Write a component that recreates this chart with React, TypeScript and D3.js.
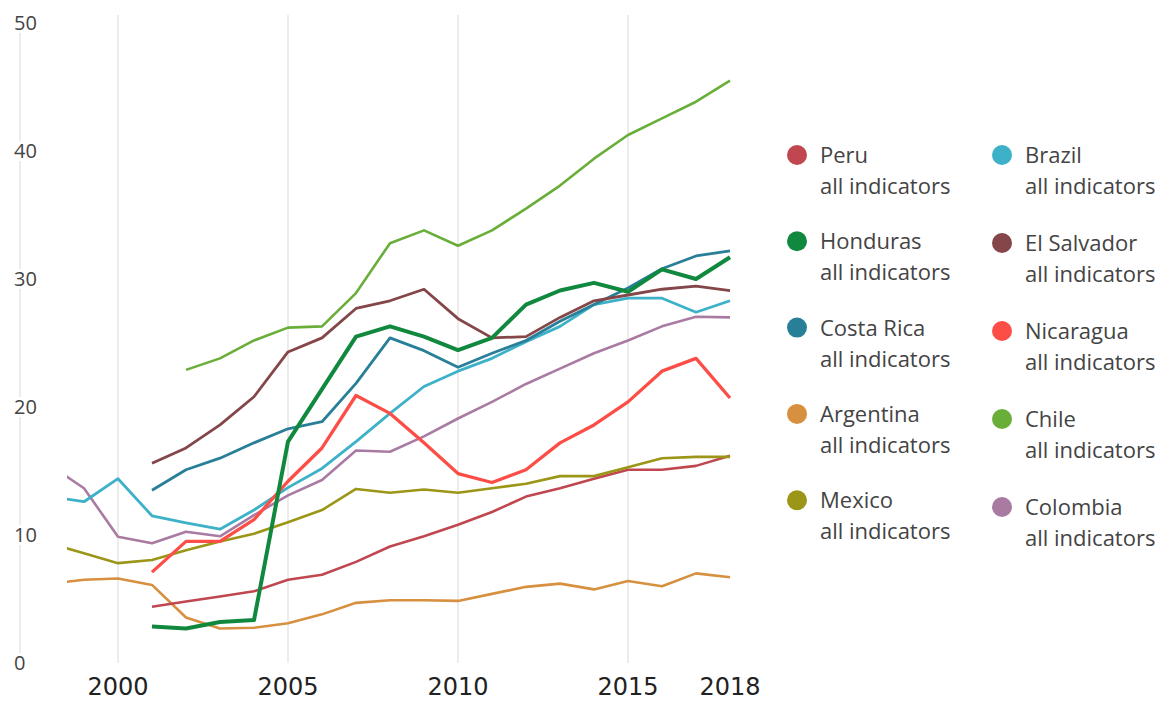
import * as d3 from 'd3';
import React, { useEffect, useRef } from 'react';

const years = d3.range(1998, 2019);
const xTicks = [2000, 2005, 2010, 2015, 2018];
const yTicks = [0, 10, 20, 30, 40, 50];
const gridYears = [2000, 2005, 2010, 2015];

// one value per year, 1998..2018 (null = no data)
const peru = [null, null, null, 4.4, 4.8, 5.2, 5.6, 6.5, 6.9, 7.9, 9.1, 9.9, 10.8, 11.8, 13.0, 13.65, 14.4, 15.1, 15.1, 15.4, 16.2];
const honduras = [null, null, null, 2.85, 2.7, 3.2, 3.35, 17.3, 21.4, 25.5, 26.3, 25.5, 24.45, 25.4, 28.0, 29.1, 29.7, 29.0, 30.75, 30.0, 31.7];
const costaRica = [null, null, null, 13.5, 15.1, 16.0, 17.2, 18.3, 18.85, 21.85, 25.4, 24.4, 23.1, 24.2, 25.2, 26.7, 28.0, 29.3, 30.8, 31.8, 32.2];
const argentina = [6.2, 6.5, 6.6, 6.1, 3.55, 2.7, 2.75, 3.1, 3.8, 4.7, 4.9, 4.9, 4.85, 5.4, 5.95, 6.2, 5.75, 6.4, 6.0, 7.0, 6.7];
const mexico = [9.35, 8.57, 7.8, 8.05, 8.8, 9.5, 10.1, 11.0, 11.95, 13.6, 13.3, 13.55, 13.3, 13.65, 14.0, 14.6, 14.6, 15.3, 16.0, 16.1, 16.1];
const brazil = [13.0, 12.6, 14.4, 11.5, 10.95, 10.45, 11.95, 13.7, 15.2, 17.3, 19.5, 21.6, 22.8, 23.8, 25.1, 26.3, 28.0, 28.5, 28.5, 27.4, 28.3];
const elSalvador = [null, null, null, 15.6, 16.8, 18.6, 20.8, 24.3, 25.4, 27.7, 28.3, 29.2, 26.9, 25.4, 25.5, 27.0, 28.3, 28.75, 29.2, 29.45, 29.1];
const nicaragua = [null, null, null, 7.1, 9.5, 9.5, 11.2, 14.2, 16.8, 20.9, 19.5, 17.2, 14.8, 14.1, 15.1, 17.2, 18.6, 20.4, 22.8, 23.8, 20.7];
const chile = [null, null, null, null, 22.9, 23.8, 25.2, 26.2, 26.3, 28.9, 32.8, 33.8, 32.6, 33.8, 35.5, 37.3, 39.4, 41.25, 42.55, 43.85, 45.5];
const colombia = [15.45, 13.65, 9.87, 9.35, 10.26, 9.9, 11.55, 13.1, 14.3, 16.6, 16.5, 17.7, 19.1, 20.4, 21.8, 23.0, 24.2, 25.2, 26.3, 27.05, 27.0];

// legend order: left column then right column
const legendLeft = ['Peru', 'Honduras', 'Costa Rica', 'Argentina', 'Mexico'];
const legendRight = ['Brazil', 'El Salvador', 'Nicaragua', 'Chile', 'Colombia'];

const series = [
  { name: 'Argentina', values: argentina, color: '#d6903f', width: 2.6 },
  { name: 'Peru', values: peru, color: '#c0474f', width: 2.6 },
  { name: 'Mexico', values: mexico, color: '#9b9617', width: 2.6 },
  { name: 'Colombia', values: colombia, color: '#a97ba3', width: 2.6 },
  { name: 'Brazil', values: brazil, color: '#3db1c8', width: 2.8 },
  { name: 'Costa Rica', values: costaRica, color: '#2a7f98', width: 2.8 },
  { name: 'El Salvador', values: elSalvador, color: '#844649', width: 2.8 },
  { name: 'Chile', values: chile, color: '#6aae3a', width: 2.6 },
  { name: 'Nicaragua', values: nicaragua, color: '#fc4e47', width: 3.3 },
  { name: 'Honduras', values: honduras, color: '#10893f', width: 4 },
];

const W = 1167;
const H = 702;

export default function App() {
  const ref = useRef(null);

  useEffect(() => {
    const svg = d3.select(ref.current);
    svg.selectAll('*').remove();

    const x = d3.scaleLinear().domain([2000, 2018]).range([118, 730]);
    const y = d3.scaleLinear().domain([0, 50]).range([663, 23]);

    // grid
    svg.append('line')
      .attr('x1', 20).attr('x2', 20).attr('y1', 30).attr('y2', 663)
      .attr('stroke', '#e6e6e6').attr('stroke-width', 1.5);

    svg.append('g')
      .selectAll('line')
      .data(gridYears)
      .enter()
      .append('line')
      .attr('x1', d => x(d)).attr('x2', d => x(d))
      .attr('y1', 15).attr('y2', 663)
      .attr('stroke', '#e6e6e6').attr('stroke-width', 1.5);

    // y labels
    svg.append('g')
      .selectAll('text')
      .data(yTicks)
      .enter()
      .append('text')
      .attr('x', 14)
      .attr('y', d => y(d))
      .attr('dy', '0.36em')
      .attr('font-family', '"Open Sans", sans-serif')
      .attr('font-size', 20)
      .attr('fill', '#444')
      .attr('stroke', '#fff')
      .attr('stroke-width', 6)
      .attr('paint-order', 'stroke')
      .text(d => d);

    // x labels
    svg.append('g')
      .selectAll('text')
      .data(xTicks)
      .enter()
      .append('text')
      .attr('x', d => x(d))
      .attr('y', 695)
      .attr('text-anchor', 'middle')
      .attr('font-family', '"DejaVu Sans", sans-serif')
      .attr('font-size', 24)
      .attr('fill', '#222')
      .text(d => d);

    // lines, clipped where the plot starts (mid 1998)
    svg.append('clipPath')
      .attr('id', 'plot-clip')
      .append('rect')
      .attr('x', x(1998.5)).attr('y', 0)
      .attr('width', x(2018) - x(1998.5) + 10).attr('height', H);

    const line = d3.line()
      .defined(d => d[1] != null)
      .x(d => x(d[0]))
      .y(d => y(d[1]));

    svg.append('g')
      .attr('clip-path', 'url(#plot-clip)')
      .selectAll('path')
      .data(series)
      .enter()
      .append('path')
      .attr('d', s => line(years.map((yr, i) => [yr, s.values[i]])))
      .attr('fill', 'none')
      .attr('stroke', s => s.color)
      .attr('stroke-width', s => s.width)
      .attr('stroke-linejoin', 'round');

    // legend
    const colorOf = name => series.find(s => s.name === name).color;
    const cols = [
      { names: legendLeft, dotX: 797, textX: 820, top: 155, gap: 86.3 },
      { names: legendRight, dotX: 1002, textX: 1025, top: 155, gap: 88 },
    ];
    cols.forEach(c => {
      const g = svg.append('g').selectAll('g')
        .data(c.names)
        .enter()
        .append('g')
        .attr('transform', (d, i) => `translate(0,${c.top + i * c.gap})`);
      g.append('circle')
        .attr('cx', c.dotX).attr('cy', 0).attr('r', 10)
        .attr('fill', d => colorOf(d));
      g.append('text')
        .attr('x', c.textX).attr('y', 8)
        .attr('font-family', '"Open Sans", sans-serif')
        .attr('font-size', 22)
        .attr('fill', '#444')
        .text(d => d);
      g.append('text')
        .attr('x', c.textX).attr('y', 39)
        .attr('font-family', '"Open Sans", sans-serif')
        .attr('font-size', 22)
        .attr('fill', '#444')
        .text('all indicators');
    });
  }, []);

  return (
    <svg ref={ref} width={W} height={H}
      style={{ position: 'absolute', left: 0, top: 0, background: '#fff' }} />
  );
}
